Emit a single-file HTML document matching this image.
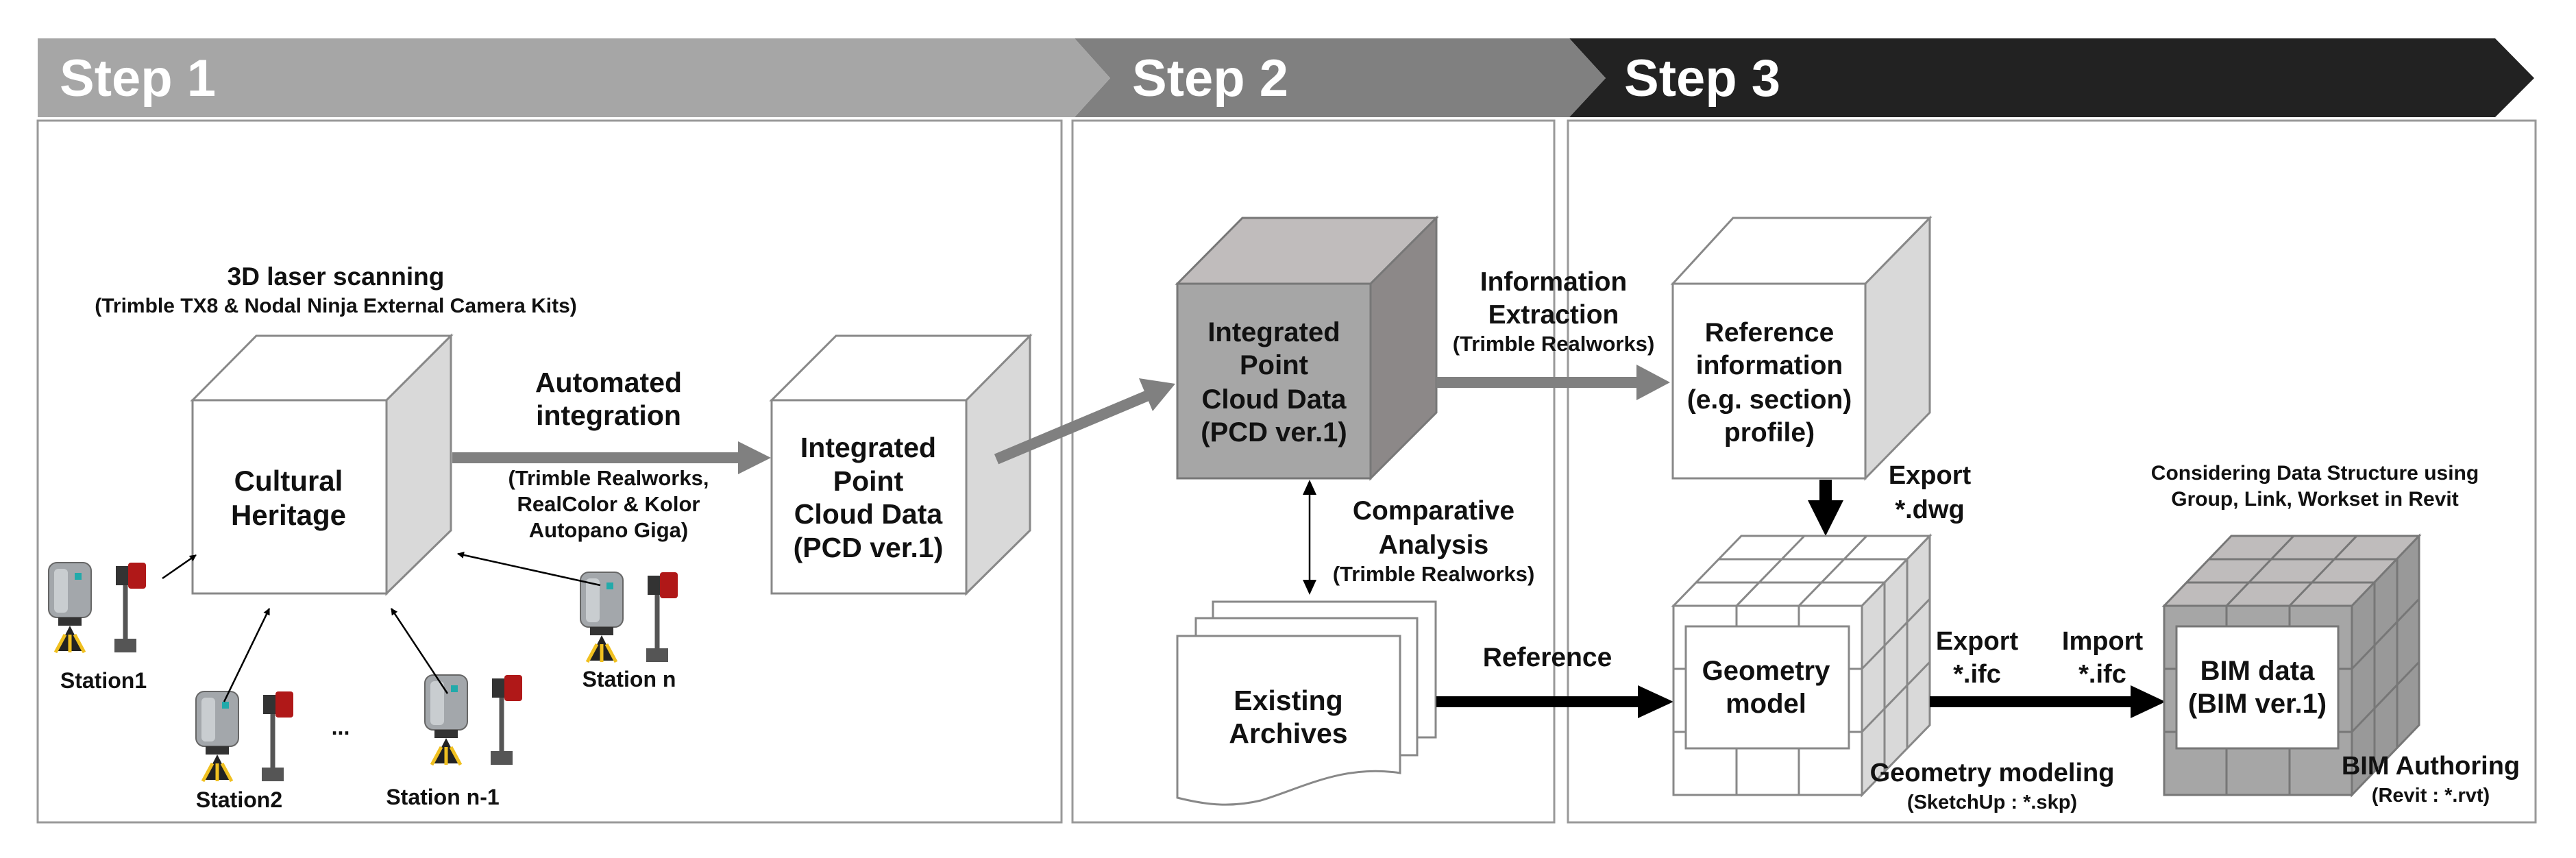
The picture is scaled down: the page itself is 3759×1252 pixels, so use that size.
<!DOCTYPE html>
<html><head><meta charset="utf-8"><style>
html,body{margin:0;padding:0;background:#fff;}
svg{display:block;}
text{font-family:"Liberation Sans",sans-serif;font-weight:bold;fill:#111;}
</style></head><body>
<svg width="3759" height="1252" viewBox="0 0 3759 1252" xmlns="http://www.w3.org/2000/svg">
<defs>
<g id="st">
  <rect x="0" y="5" width="62" height="80" rx="12" fill="#a3a7ab" stroke="#666" stroke-width="2"/>
  <rect x="8" y="14" width="20" height="64" rx="6" fill="#c9cdd0"/>
  <rect x="38" y="20" width="10" height="10" fill="#2aa"/>
  <rect x="14" y="85" width="34" height="12" fill="#333"/>
  <polygon points="31,97 12,134 50,134" fill="#222"/>
  <line x1="24" y1="110" x2="10" y2="136" stroke="#f0c020" stroke-width="5"/>
  <line x1="31" y1="110" x2="31" y2="136" stroke="#f0c020" stroke-width="5"/>
  <line x1="38" y1="110" x2="52" y2="136" stroke="#f0c020" stroke-width="5"/>
  <line x1="112" y1="35" x2="112" y2="120" stroke="#555" stroke-width="7"/>
  <rect x="98" y="10" width="20" height="28" fill="#333"/>
  <rect x="116" y="5" width="26" height="38" rx="4" fill="#b01818"/>
  <rect x="96" y="116" width="32" height="20" fill="#555"/>
</g>
<marker id="ah" markerWidth="10" markerHeight="10" refX="9" refY="5" orient="auto" markerUnits="userSpaceOnUse"><path d="M0,0 L10,5 L0,10z" fill="#000"/></marker>
</defs>

<!-- banners -->
<polygon points="2290,56 3641,56 3698,114 3641,171 2290,171 2343,114" fill="#222"/>
<polygon points="1568,56 2290,56 2343,114 2290,171 1568,171 1620,114" fill="#808080"/>
<polygon points="55,56 1568,56 1620,114 1568,171 55,171" fill="#a6a6a6"/>
<text x="87" y="140" font-size="76" style="fill:#fff">Step 1</text>
<text x="1652" y="140" font-size="76" style="fill:#fff">Step 2</text>
<text x="2370" y="140" font-size="76" style="fill:#fff">Step 3</text>

<!-- panels -->
<rect x="55" y="176" width="1494" height="1024" fill="none" stroke="#999" stroke-width="3"/>
<rect x="1565" y="176" width="703" height="1024" fill="none" stroke="#999" stroke-width="3"/>
<rect x="2288" y="176" width="1412" height="1024" fill="none" stroke="#999" stroke-width="3"/>

<!-- Step 1 -->
<text x="490" y="416" font-size="37" text-anchor="middle">3D laser scanning</text>
<text x="490" y="456" font-size="30" text-anchor="middle">(Trimble TX8 &amp; Nodal Ninja External Camera Kits)</text>

<g stroke="#888" stroke-width="3">
<polygon points="281,584 564,584 658,490 374,490" fill="#fff"/>
<polygon points="564,584 658,490 658,774 564,866" fill="#d9d9d9"/>
<rect x="281" y="584" width="283" height="282" fill="#fff"/>
</g>
<text x="421" y="716" font-size="42" text-anchor="middle">Cultural</text>
<text x="421" y="766" font-size="42" text-anchor="middle">Heritage</text>

<polygon points="660,660 1077,660 1077,644 1125,668 1077,692 1077,676 660,676" fill="#808080"/>
<text x="888" y="572" font-size="41" text-anchor="middle">Automated</text>
<text x="888" y="620" font-size="41" text-anchor="middle">integration</text>
<text x="888" y="708" font-size="31" text-anchor="middle">(Trimble Realworks,</text>
<text x="888" y="746" font-size="31" text-anchor="middle">RealColor &amp; Kolor</text>
<text x="888" y="784" font-size="31" text-anchor="middle">Autopano Giga)</text>

<g stroke="#888" stroke-width="3">
<polygon points="1126,584 1410,584 1503,490 1220,490" fill="#fff"/>
<polygon points="1410,584 1503,490 1503,774 1410,866" fill="#d9d9d9"/>
<rect x="1126" y="584" width="284" height="282" fill="#fff"/>
</g>
<text x="1267" y="667" font-size="41" text-anchor="middle">Integrated</text>
<text x="1267" y="716" font-size="41" text-anchor="middle">Point</text>
<text x="1267" y="764" font-size="41" text-anchor="middle">Cloud Data</text>
<text x="1267" y="813" font-size="41" text-anchor="middle">(PCD ver.1)</text>

<line x1="1454" y1="670" x2="1680" y2="575" stroke="#808080" stroke-width="16"/>
<polygon points="1715,560 1662,552 1682,600" fill="#808080"/>

<!-- stations -->
<use href="#st" x="71" y="816"/>
<use href="#st" x="286" y="1004"/>
<use href="#st" x="620" y="980"/>
<use href="#st" x="847" y="830"/>
<text x="151" y="1004" font-size="32" text-anchor="middle">Station1</text>
<text x="349" y="1178" font-size="32" text-anchor="middle">Station2</text>
<text x="497" y="1072" font-size="32" text-anchor="middle">...</text>
<text x="646" y="1174" font-size="32" text-anchor="middle">Station n-1</text>
<text x="918" y="1002" font-size="32" text-anchor="middle">Station n</text>
<g stroke="#000" stroke-width="2.5" marker-end="url(#ah)">
<line x1="237" y1="844" x2="286" y2="810"/>
<line x1="327" y1="1024" x2="393" y2="888"/>
<line x1="653" y1="1012" x2="571" y2="888"/>
<line x1="876" y1="854" x2="668" y2="808"/>
</g>

<!-- Step 2 -->
<g stroke="#777" stroke-width="3">
<polygon points="1718,414 2000,414 2096,318 1813,318" fill="#c0bcbc"/>
<polygon points="2000,414 2096,318 2096,602 2000,698" fill="#8c8888"/>
<rect x="1718" y="414" width="282" height="284" fill="#a6a6a6"/>
</g>
<text x="1859" y="498" font-size="40" text-anchor="middle">Integrated</text>
<text x="1859" y="546" font-size="40" text-anchor="middle">Point</text>
<text x="1859" y="596" font-size="40" text-anchor="middle">Cloud Data</text>
<text x="1859" y="644" font-size="40" text-anchor="middle">(PCD ver.1)</text>

<polygon points="2096,550 2388,550 2388,532 2437,558 2388,584 2388,566 2096,566" fill="#808080"/>
<text x="2267" y="424" font-size="39" text-anchor="middle">Information</text>
<text x="2267" y="472" font-size="39" text-anchor="middle">Extraction</text>
<text x="2267" y="512" font-size="31" text-anchor="middle">(Trimble Realworks)</text>

<line x1="1911" y1="706" x2="1911" y2="862" stroke="#000" stroke-width="2.5"/>
<polygon points="1911,700 1901,722 1921,722" fill="#000"/>
<polygon points="1911,868 1901,846 1921,846" fill="#000"/>
<text x="2092" y="758" font-size="39" text-anchor="middle">Comparative</text>
<text x="2092" y="808" font-size="39" text-anchor="middle">Analysis</text>
<text x="2092" y="848" font-size="31" text-anchor="middle">(Trimble Realworks)</text>

<g stroke="#888" stroke-width="3" fill="#fff">
<rect x="1770" y="878" width="325" height="198"/>
<rect x="1745" y="902" width="323" height="200"/>
<path d="M1718,928 L2043,928 L2043,1128 C1960,1115 1900,1150 1840,1168 C1790,1180 1750,1172 1718,1164 Z"/>
</g>
<text x="1880" y="1036" font-size="41" text-anchor="middle">Existing</text>
<text x="1880" y="1084" font-size="41" text-anchor="middle">Archives</text>

<polygon points="2096,1016 2390,1016 2390,1000 2442,1024 2390,1048 2390,1032 2096,1032" fill="#000"/>
<text x="2258" y="972" font-size="39" text-anchor="middle">Reference</text>

<!-- Step 3 -->
<g stroke="#888" stroke-width="3">
<polygon points="2441,414 2722,414 2816,318 2529,318" fill="#fff"/>
<polygon points="2722,414 2816,318 2816,602 2722,698" fill="#d9d9d9"/>
<rect x="2441" y="414" width="281" height="284" fill="#fff"/>
</g>
<text x="2582" y="498" font-size="39" text-anchor="middle">Reference</text>
<text x="2582" y="546" font-size="39" text-anchor="middle">information</text>
<text x="2582" y="596" font-size="39" text-anchor="middle">(e.g. section)</text>
<text x="2582" y="644" font-size="39" text-anchor="middle">profile)</text>

<polygon points="2655,700 2673,700 2673,730 2690,730 2664,782 2638,730 2655,730" fill="#000"/>
<text x="2816" y="706" font-size="38" text-anchor="middle">Export</text>
<text x="2816" y="756" font-size="38" text-anchor="middle">*.dwg</text>

<g stroke="#888" stroke-width="3">
<polygon points="2442,884 2717,884 2816,782 2541,782" fill="#fff"/>
<polygon points="2717,884 2816,782 2816,1058 2717,1160" fill="#d9d9d9"/>
<rect x="2442" y="884" width="275" height="276" fill="#fff"/>
<line x1="2534" y1="884" x2="2633" y2="782"/><line x1="2625" y1="884" x2="2724" y2="782"/>
<line x1="2475" y1="850" x2="2750" y2="850"/><line x1="2508" y1="816" x2="2783" y2="816"/>
<line x1="2717" y1="976" x2="2816" y2="874"/><line x1="2717" y1="1068" x2="2816" y2="966"/>
<line x1="2750" y1="850" x2="2750" y2="1126"/><line x1="2783" y1="816" x2="2783" y2="1092"/>
<line x1="2534" y1="884" x2="2534" y2="1160"/><line x1="2625" y1="884" x2="2625" y2="1160"/>
<line x1="2442" y1="976" x2="2717" y2="976"/><line x1="2442" y1="1068" x2="2717" y2="1068"/>
<rect x="2460" y="914" width="238" height="178" fill="#fff"/>
</g>
<text x="2577" y="992" font-size="40" text-anchor="middle">Geometry</text>
<text x="2577" y="1040" font-size="40" text-anchor="middle">model</text>

<polygon points="2816,1016 3109,1016 3109,1000 3160,1024 3109,1048 3109,1032 2816,1032" fill="#000"/>
<text x="2885" y="948" font-size="38" text-anchor="middle">Export</text>
<text x="2885" y="996" font-size="38" text-anchor="middle">*.ifc</text>
<text x="3068" y="948" font-size="38" text-anchor="middle">Import</text>
<text x="3068" y="996" font-size="38" text-anchor="middle">*.ifc</text>
<text x="2907" y="1140" font-size="38" text-anchor="middle">Geometry modeling</text>
<text x="2907" y="1180" font-size="29" text-anchor="middle">(SketchUp : *.skp)</text>

<g stroke="#777" stroke-width="3">
<polygon points="3158,884 3432,884 3530,782 3256,782" fill="#bfbcbc"/>
<polygon points="3432,884 3530,782 3530,1058 3432,1160" fill="#999"/>
<rect x="3158" y="884" width="274" height="276" fill="#a6a6a6"/>
<line x1="3249" y1="884" x2="3347" y2="782"/><line x1="3341" y1="884" x2="3439" y2="782"/>
<line x1="3191" y1="850" x2="3465" y2="850"/><line x1="3224" y1="816" x2="3498" y2="816"/>
<line x1="3432" y1="976" x2="3530" y2="874"/><line x1="3432" y1="1068" x2="3530" y2="966"/>
<line x1="3465" y1="850" x2="3465" y2="1126"/><line x1="3498" y1="816" x2="3498" y2="1092"/>
<line x1="3249" y1="884" x2="3249" y2="1160"/><line x1="3341" y1="884" x2="3341" y2="1160"/>
<line x1="3158" y1="976" x2="3432" y2="976"/><line x1="3158" y1="1068" x2="3432" y2="1068"/>
<rect x="3176" y="914" width="236" height="178" fill="#fff"/>
</g>
<text x="3294" y="992" font-size="40" text-anchor="middle">BIM data</text>
<text x="3294" y="1040" font-size="40" text-anchor="middle">(BIM ver.1)</text>
<text x="3378" y="700" font-size="30" text-anchor="middle">Considering Data Structure using</text>
<text x="3378" y="738" font-size="30" text-anchor="middle">Group, Link, Workset in Revit</text>
<text x="3547" y="1130" font-size="38" text-anchor="middle">BIM Authoring</text>
<text x="3547" y="1170" font-size="29" text-anchor="middle">(Revit : *.rvt)</text>
</svg>
</body></html>
